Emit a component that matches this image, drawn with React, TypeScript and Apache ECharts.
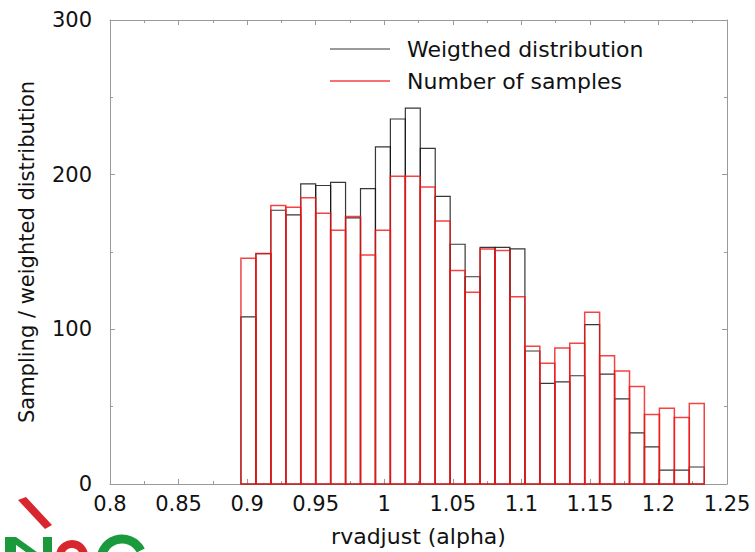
import React, { useEffect, useRef } from "react";
import * as echarts from "echarts";

// Histogram binning (uniform bins)
const BIN_START = 0.8955;
const BIN_WIDTH = 0.0109;

// Weighted distribution (black outline)
const weighted = [
  108, 149, 177, 174, 194, 193, 195, 172, 191, 218, 236, 243, 217, 186, 155, 134,
  153, 153, 152, 86, 65, 66, 70, 103, 71, 55, 33, 24, 9, 9, 11,
];
// Number of samples (red outline)
const samples = [
  146, 149, 180, 179, 185, 175, 164, 173, 148, 164, 199, 199, 192, 170, 138, 124,
  152, 151, 121, 89, 78, 88, 91, 111, 83, 73, 63, 45, 49, 43, 52,
];

const xTicks = [0.8, 0.85, 0.9, 0.95, 1, 1.05, 1.1, 1.15, 1.2, 1.25];
const yTicks = [0, 100, 200, 300];

const legendNames = ["Weigthed distribution", "Number of samples"];
const xName = "rvadjust (alpha)";
const yName = "Sampling / weighted distribution";

const FONT = "DejaVu Sans";
const BLACK = "rgba(20,20,20,0.85)";
const RED = "rgba(240,20,20,0.8)";
const AXIS = "#9a9a9a";

function toBins(vals: number[]) {
  return vals.map((v, i) => [BIN_START + i * BIN_WIDTH, BIN_START + (i + 1) * BIN_WIDTH, v]);
}

function makeRender(color: string, width: number) {
  return (params: any, api: any) => {
    const x0 = api.value(0);
    const x1 = api.value(1);
    const y = api.value(2);
    const p0 = api.coord([x0, 0]);
    const p1 = api.coord([x1, y]);
    return {
      type: "rect",
      shape: { x: p0[0], y: p1[1], width: p1[0] - p0[0], height: p0[1] - p1[1] },
      style: { fill: "none", stroke: color, lineWidth: width },
    };
  };
}

export default function App() {
  const ref = useRef<HTMLDivElement>(null);
  useEffect(() => {
    if (!ref.current) return;
    const chart = echarts.init(ref.current, null, { renderer: "svg" });
    const xMin = xTicks[0];
    const xMax = xTicks[xTicks.length - 1];
    const yMin = yTicks[0];
    const yMax = yTicks[yTicks.length - 1];
    const fmt = (v: number) => String(parseFloat(v.toFixed(3)));
    const baseX = {
      type: "value",
      min: xMin,
      max: xMax,
      interval: 0.05,
      splitLine: { show: false },
      axisLine: { show: true, onZero: false, lineStyle: { color: AXIS, width: 1 } },
      axisTick: { show: true, inside: true, length: 5, lineStyle: { color: AXIS } },
      minorTick: { show: true, splitNumber: 2, length: 3, lineStyle: { color: AXIS } },
    };
    const baseY = {
      type: "value",
      min: yMin,
      max: yMax,
      interval: 100,
      splitLine: { show: false },
      axisLine: { show: true, onZero: false, lineStyle: { color: AXIS, width: 1 } },
      axisTick: { show: true, inside: true, length: 5, lineStyle: { color: AXIS } },
      minorTick: { show: true, splitNumber: 2, length: 3, lineStyle: { color: AXIS } },
    };
    chart.setOption({
      animation: false,
      backgroundColor: "#fff",
      grid: { left: 110, right: 28, top: 20, bottom: 65, containLabel: false },
      xAxis: [
        {
          ...baseX,
          position: "bottom",
          name: xName,
          nameLocation: "middle",
          nameGap: 41,
          nameTextStyle: { fontFamily: FONT, fontSize: 22, color: "#111" },
          axisLabel: { fontFamily: FONT, fontSize: 21, color: "#111", margin: 9, formatter: fmt },
        },
        { ...baseX, position: "top", axisLabel: { show: false } },
      ],
      yAxis: [
        {
          ...baseY,
          position: "left",
          name: yName,
          nameLocation: "middle",
          nameGap: 73,
          nameRotate: 90,
          nameTextStyle: { fontFamily: FONT, fontSize: 21, color: "#111" },
          axisLabel: { fontFamily: FONT, fontSize: 21, color: "#111", margin: 18 },
        },
        { ...baseY, position: "right", axisLabel: { show: false } },
      ],
      series: [
        {
          type: "custom",
          name: legendNames[0],
          xAxisIndex: 0,
          yAxisIndex: 0,
          renderItem: makeRender(BLACK, 1.2),
          encode: { x: [0, 1], y: 2 },
          data: toBins(weighted),
          silent: true,
        },
        {
          type: "custom",
          name: legendNames[1],
          xAxisIndex: 0,
          yAxisIndex: 0,
          renderItem: makeRender(RED, 1.5),
          encode: { x: [0, 1], y: 2 },
          data: toBins(samples),
          silent: true,
        },
      ],
      graphic: [
        // legend
        { type: "line", shape: { x1: 330, y1: 49, x2: 390, y2: 49 }, style: { stroke: BLACK, lineWidth: 1.2 } },
        {
          type: "text",
          x: 407,
          y: 49,
          style: { text: legendNames[0], fontFamily: FONT, fontSize: 22, fill: "#111", verticalAlign: "middle" },
        },
        { type: "line", shape: { x1: 330, y1: 81, x2: 390, y2: 81 }, style: { stroke: RED, lineWidth: 1.5 } },
        {
          type: "text",
          x: 407,
          y: 81,
          style: { text: legendNames[1], fontFamily: FONT, fontSize: 22, fill: "#111", verticalAlign: "middle" },
        },
        // partial logo at bottom-left
        { type: "polygon", shape: { points: [[18, 500], [26, 497], [52, 525], [45, 529]] }, style: { fill: "#d8262e" } },
        { type: "rect", shape: { x: 5, y: 537, width: 11, height: 20 }, style: { fill: "#1a9a3c" } },
        { type: "polygon", shape: { points: [[5, 537], [16, 537], [48, 560], [37, 560]] }, style: { fill: "#1a9a3c" } },
        { type: "rect", shape: { x: 43, y: 537, width: 9, height: 20 }, style: { fill: "#1a9a3c" } },
        {
          type: "arc",
          shape: { cx: 72, cy: 556, r: 12, startAngle: Math.PI * 1.05, endAngle: Math.PI * 2.1 },
          style: { stroke: "#d8262e", lineWidth: 8, fill: "none" },
        },
        {
          type: "arc",
          shape: { cx: 122, cy: 560, r: 21, startAngle: Math.PI * 0.95, endAngle: Math.PI * 1.85 },
          style: { stroke: "#1a9a3c", lineWidth: 9, fill: "none" },
        },
      ],
    });
    return () => chart.dispose();
  }, []);
  return <div ref={ref} style={{ width: 755, height: 552, position: "absolute", left: 0, top: 0 }} />;
}
